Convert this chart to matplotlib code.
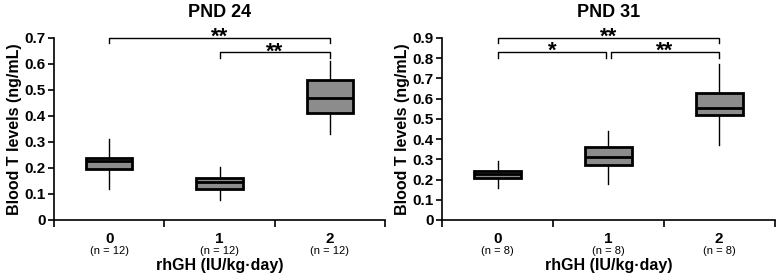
import matplotlib
matplotlib.use('Agg')
import matplotlib.pyplot as plt
import numpy as np

plt.rcParams['font.family'] = ['Liberation Sans', 'DejaVu Sans']

groups = ['0', '1', '2']

# PND 24 box stats: whisker low, q1, median, q3, whisker high
pnd24_lo = [0.12, 0.075, 0.33]
pnd24_q1 = [0.195, 0.118, 0.41]
pnd24_med = [0.225, 0.145, 0.47]
pnd24_q3 = [0.24, 0.162, 0.54]
pnd24_hi = [0.31, 0.205, 0.61]
pnd24_n = [12, 12, 12]

# PND 31
pnd31_lo = [0.16, 0.18, 0.37]
pnd31_q1 = [0.21, 0.27, 0.52]
pnd31_med = [0.225, 0.31, 0.555]
pnd31_q3 = [0.24, 0.36, 0.63]
pnd31_hi = [0.29, 0.44, 0.77]
pnd31_n = [8, 8, 8]


def draw_panel(ax, title, lo, q1, med, q3, hi, n, ymax, yticks, brackets):
    stats = []
    for i in range(len(groups)):
        stats.append(dict(whislo=lo[i], q1=q1[i], med=med[i], q3=q3[i],
                          whishi=hi[i], fliers=[]))
    ax.bxp(stats, positions=range(len(groups)), widths=0.42, patch_artist=True,
           showcaps=False,
           boxprops=dict(facecolor='#8c8c8c', edgecolor='black', linewidth=2),
           medianprops=dict(color='black', linewidth=2),
           whiskerprops=dict(color='black', linewidth=1))
    ax.set_xlim(-0.5, 2.5)
    ax.set_ylim(0, ymax)
    ax.set_yticks(yticks)
    ax.set_yticklabels(['0' if t == 0 else f'{t:.1f}' for t in yticks],
                       fontsize=11, fontweight='bold')
    ax.set_xticks(range(len(groups)))
    ax.set_xticklabels(groups, fontsize=11, fontweight='bold')
    ax.set_xticks([-0.5, 0.5, 1.5, 2.5], minor=True)
    ax.tick_params(axis='x', which='major', length=0, pad=9)
    ax.tick_params(axis='x', which='minor', length=5, width=1.2, direction='out')
    ax.tick_params(axis='y', length=4, width=1.2, direction='out', pad=2)
    for s in ['top', 'right']:
        ax.spines[s].set_visible(False)
    for s in ['left', 'bottom']:
        ax.spines[s].set_linewidth(1.2)
    for i in range(len(groups)):
        ax.text(i, -0.172, f'(n = {n[i]})', transform=ax.get_xaxis_transform(),
                ha='center', va='center', fontsize=8)
    ax.set_title(title, fontsize=13, fontweight='bold', pad=15)
    ax.set_xlabel('rhGH (IU/kg·day)', fontsize=11.5, fontweight='bold', labelpad=8)
    ax.set_ylabel('Blood T levels (ng/mL)', fontsize=11.5, fontweight='bold', labelpad=2)

    drop = ymax * 0.03
    for x0, x1, y, label in brackets:
        ax.plot([x0, x0, x1, x1], [y - drop, y, y, y - drop], color='black',
                lw=1, clip_on=False)
        ax.text((x0 + x1) / 2, y - ymax * 0.055, label, ha='center', va='bottom',
                fontsize=16, fontweight='bold', clip_on=False)


fig = plt.figure(figsize=(7.77, 2.79), dpi=100)
ax1 = fig.add_axes([0.0695, 0.2115, 0.426, 0.6523])
ax2 = fig.add_axes([0.569, 0.2115, 0.428, 0.6523])

draw_panel(ax1, 'PND 24', pnd24_lo, pnd24_q1, pnd24_med, pnd24_q3, pnd24_hi,
           pnd24_n, 0.7, np.round(np.arange(0, 0.71, 0.1), 1),
           [(0, 2, 0.7, '**'), (1, 2, 0.645, '**')])
draw_panel(ax2, 'PND 31', pnd31_lo, pnd31_q1, pnd31_med, pnd31_q3, pnd31_hi,
           pnd31_n, 0.9, np.round(np.arange(0, 0.91, 0.1), 1),
           [(0, 2, 0.9, '**'), (0, 0.98, 0.83, '*'), (1.02, 2, 0.83, '**')])

fig.savefig('out.png', dpi=100)
